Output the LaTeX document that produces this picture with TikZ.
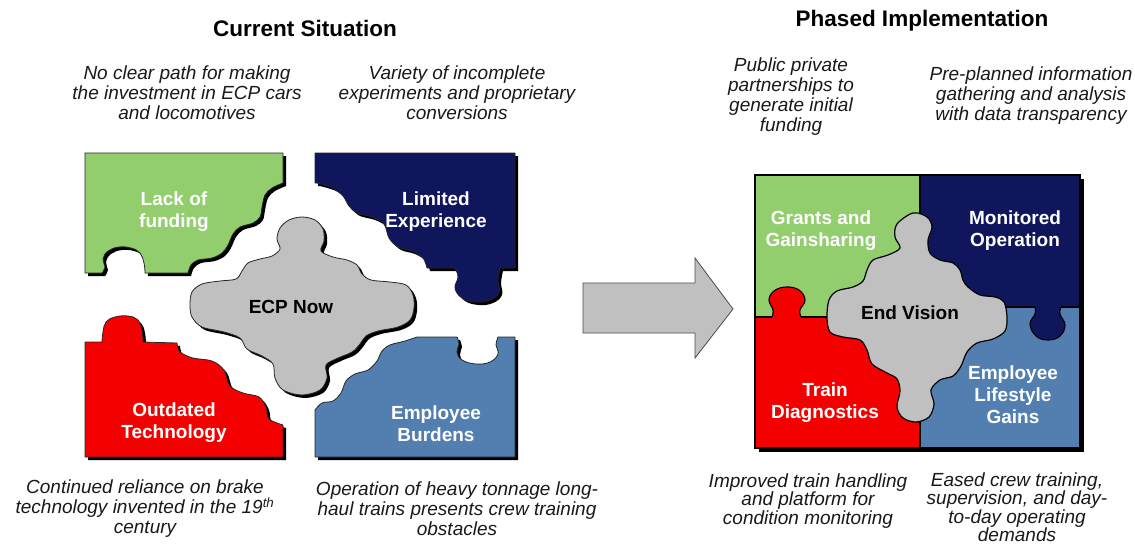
\documentclass[tikz,border=0pt]{standalone}
\usepackage{fontspec}
\setmainfont{Liberation Sans}
\begin{document}
\begin{tikzpicture}[x=1pt,y=-1pt]
\definecolor{pgreen}{RGB}{146,206,110}
\definecolor{pnavy}{RGB}{16,22,92}
\definecolor{pred}{RGB}{244,0,0}
\definecolor{pblue}{RGB}{82,126,176}
\definecolor{pgray}{RGB}{192,192,192}
\definecolor{ptext}{RGB}{25,25,25}
\tikzset{
  piece/.style={draw=black!85, line width=0.8pt, line join=round},
  pshadow/.style={fill=black, shift={(3,3)}},
  lbl/.style={text=white, font=\fontsize{19}{22}\selectfont\bfseries, align=center, inner sep=0pt},
  clbl/.style={text=black, font=\fontsize{19}{22}\selectfont\bfseries, align=center, inner sep=0pt},
  note/.style={text=ptext, font=\fontsize{19}{20}\selectfont\itshape, align=center, inner sep=0pt},
  tightnote/.style={text=ptext, font=\fontsize{19}{18.5}\selectfont\itshape, align=center, inner sep=0pt},
  ttl/.style={text=black, font=\fontsize{22.5}{26}\selectfont\bfseries, inner sep=0pt},
  divider/.style={draw=black, line width=1.1pt},
}
\useasboundingbox (0,0) rectangle (1135,546);
\fill[white] (0,0) rectangle (1135,546);

% ---------- left puzzle paths ----------
\def\pGreen{(85,153) -- (283,153) -- plot[smooth,tension=0.55] coordinates {(283,183) (272,188) (265,195) (262,207) (260,217) (253,223) (240,227) (233,234) (228,245) (222,253) (212,258) (198,260) (191,265) (188,273)} -- plot[smooth,tension=0.7] coordinates {(145,273) (144,263) (140,253) (131,248) (119,247) (108,251) (103,259) (105,267) (102,273)} -- (85,273) -- cycle}
\def\pNavy{(315,153) -- (515,153) -- (515,268) -- plot[smooth,tension=0.7] coordinates {(500,268) (498,280) (499,292) (490,300) (476,302) (462,298) (455,288) (458,277) (455,268)} -- plot[smooth,tension=0.55] coordinates {(427,268) (423,258) (412,251) (398,247) (389,238) (384,224) (372,217) (357,213) (349,206) (343,196) (333,188) (317,183)} -- (315,183) -- cycle}
\def\pRed{(85,342) -- plot[smooth,tension=0.7] coordinates {(102,342) (103,332) (106,322) (115,317) (128,316) (138,320) (142,330) (143,342)} -- plot[smooth,tension=0.55] coordinates {(177,343) (180,352) (193,358) (212,361) (224,370) (230,386) (243,393) (259,397) (266,407) (269,419) (283,425)} -- (283,457) -- (85,457) -- cycle}
\def\pBlue{(315,457) -- (515,457) -- (515,337) -- plot[smooth,tension=0.7] coordinates {(498,337) (496,345) (498,354) (490,362) (476,364) (462,360) (457,352) (459,344) (457,337)} -- plot[smooth,tension=0.55] coordinates {(417,337) (405,341) (390,345) (382,351) (377,361) (368,370) (355,374) (346,381) (341,393) (333,401) (322,403) (315,410)} -- cycle}
\def\pCenter{plot[smooth cycle,tension=0.55] coordinates {(302,217) (315,220) (323,229) (324,241) (321,251) (333,257) (347,260) (357,265) (362,274) (371,280) (390,282) (406,285) (413,295) (414,308) (410,320) (398,327) (378,331) (366,336) (360,344) (352,352) (338,358) (326,365) (327,378) (320,390) (302,395) (283,390) (275,378) (273,364) (262,356) (247,349) (240,338) (224,332) (202,327) (192,317) (190,305) (192,292) (202,284) (220,281) (236,279) (242,271) (248,263) (260,259) (272,256) (280,249) (277,239) (280,228) (289,220)}}

\fill[pshadow] \pGreen;
\fill[pshadow] \pNavy;
\fill[pshadow] \pRed;
\fill[pshadow] \pBlue;
\fill[pshadow] \pCenter;
\filldraw[piece, fill=pgreen] \pGreen;
\filldraw[piece, fill=pnavy] \pNavy;
\filldraw[piece, fill=pred] \pRed;
\filldraw[piece, fill=pblue] \pBlue;
\filldraw[piece, fill=pgray] \pCenter;

\node[lbl] (lack) at (174,212) {Lack of\\funding};
\node[lbl] (limexp) at (436,212) {Limited\\Experience};
\node[clbl] (ecp) at (291,307) {ECP Now};
\node[lbl] (outdated) at (174,423) {Outdated\\Technology};
\node[lbl] (burdens) at (436,424) {Employee\\Burdens};

% ---------- arrow ----------
\filldraw[fill=pgray, draw=black!70, line width=0.8pt, line join=miter] (583,283) -- (695,283) -- (695,258) -- (733,309) -- (695,358) -- (695,333) -- (583,333) -- cycle;

% ---------- right puzzle ----------
\fill[black] (759,179) rectangle (1084,452);
\fill[pgreen] (755,175) rectangle (920,317);
\fill[pnavy] (920,175) rectangle (1080,307);
\fill[pred] (755,317) rectangle (920,448);
\fill[pblue] (920,307) rectangle (1080,448);
\draw[divider] (920,175) -- (920,448);
\draw[divider] (755,317) -- (772,317);
\draw[divider] (801,317) -- (920,317);
\draw[divider] (920,307) -- (1035,307);
\draw[divider] (1061,307) -- (1080,307);
\filldraw[divider, fill=pred] plot[smooth,tension=0.7] coordinates {(772,317) (773,310) (769,300) (774,291) (786,287) (799,290) (805,300) (800,310) (801,317)};
\filldraw[divider, fill=pnavy] plot[smooth,tension=0.7] coordinates {(1035,307) (1035,314) (1030,324) (1036,336) (1048,340) (1060,336) (1065,325) (1060,314) (1061,307)};
\draw[line width=1.2pt] (755,175) rectangle (1080,448);
\filldraw[fill=pgray, draw=black, line width=1.2pt] plot[smooth cycle,tension=0.55] coordinates {(913,213) (927,217) (932,227) (928,240) (930,253) (940,260) (953,263) (960,270) (963,280) (968,287) (980,295) (995,297) (1004,302) (1007,317) (1005,331) (993,339) (977,343) (967,352) (961,366) (953,376) (940,380) (931,390) (934,404) (929,417) (916,422) (903,418) (897,407) (900,391) (897,379) (887,373) (872,364) (867,350) (860,340) (843,337) (830,332) (827,317) (829,300) (837,291) (853,287) (863,281) (867,270) (873,260) (888,255) (900,248) (895,237) (897,224)};

\node[lbl] (grants) at (821,231) {Grants and\\Gainsharing};
\node[lbl] (monitored) at (1015,231) {Monitored\\Operation};
\node[clbl] (endvision) at (910,313) {End Vision};
\node[lbl] (train) at (825,403) {Train\\Diagnostics};
\node[lbl] (lifestyle) at (1013,395) {Employee\\Lifestyle\\Gains};

% ---------- titles and notes ----------
\node[ttl] (t1) at (305,28) {Current Situation};
\node[ttl] (t2) at (922,21) {Phased Implementation};

\node[note] (n1) at (187,93) {No clear path for making\\the investment in ECP cars\\and locomotives};
\node[note] (n2) at (457,93) {Variety of incomplete\\experiments and proprietary\\conversions};
\node[note] (n3) at (791,97) {Public private\\partnerships to\\generate initial\\funding};
\node[note] (n4) at (1031,96) {Pre-planned information\\gathering and analysis\\with data transparency};
\node[note] (n5) at (145,509) {Continued reliance on brake\\technology invented in the 19\textsuperscript{th}\\century};
\node[note] (n6) at (457,509) {Operation of heavy tonnage long-\\haul trains presents crew training\\obstacles};
\node[tightnote] (n7) at (808,501) {Improved train handling\\and platform for\\condition monitoring};
\node[tightnote] (n8) at (1017,507) {Eased crew training,\\supervision, and day-\\to-day operating\\demands};
\end{tikzpicture}
\end{document}
